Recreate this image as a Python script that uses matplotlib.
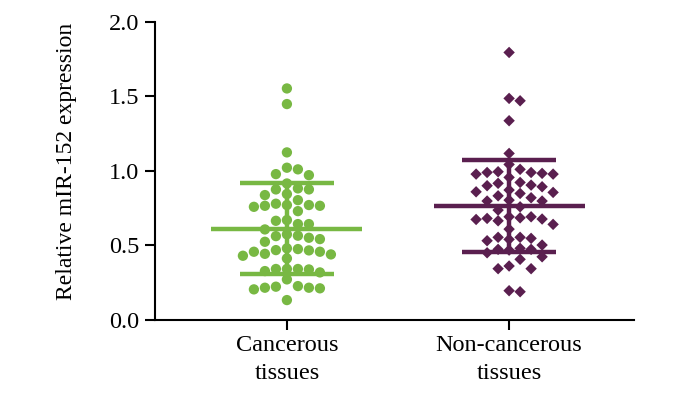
import numpy as np
import matplotlib
matplotlib.use("Agg")
import matplotlib.pyplot as plt

plt.rcParams['font.family'] = ['Liberation Serif', 'DejaVu Serif']

groups = ["Cancerous\ntissues", "Non-cancerous\ntissues"]

cancerous = [1.554, 1.449, 1.124, 1.010, 1.021, 0.971, 0.978, 0.915, 0.875, 0.882,
             0.875, 0.844, 0.837, 0.770, 0.770, 0.758, 0.803, 0.765, 0.765, 0.779,
             0.729, 0.669, 0.664, 0.642, 0.642, 0.606, 0.573, 0.550, 0.523, 0.541,
             0.564, 0.561, 0.474, 0.465, 0.456, 0.438, 0.411, 0.467, 0.429, 0.442,
             0.456, 0.479, 0.340, 0.326, 0.337, 0.317, 0.340, 0.340, 0.270, 0.225,
             0.214, 0.214, 0.203, 0.210, 0.221, 0.131]

noncancerous = [1.796, 1.487, 1.471, 1.337, 1.117, 1.043, 0.994, 0.989, 0.978, 0.956,
                1.010, 0.978, 0.983, 0.989, 0.904, 0.893, 0.922, 0.900, 0.916, 0.848,
                0.832, 0.859, 0.871, 0.855, 0.797, 0.803, 0.819, 0.797, 0.736, 0.758,
                0.684, 0.673, 0.664, 0.676, 0.680, 0.640, 0.691, 0.691, 0.608, 0.553,
                0.539, 0.553, 0.530, 0.546, 0.501, 0.479, 0.472, 0.467, 0.472, 0.449,
                0.405, 0.422, 0.342, 0.342, 0.360, 0.187, 0.194]

colors = ["#78b843", "#5a1f4f"]
markers = ["o", "D"]

fig = plt.figure(figsize=(7, 3.95), dpi=100)
ax = fig.add_axes([0.221, 0.191, 0.685, 0.753])
ax.set_xlim(-0.595, 1.563)
ax.set_ylim(0, 2.0)

# pixels per data unit, used to build a simple column-style swarm
p0 = ax.transData.transform((0, 0))
p1 = ax.transData.transform((1, 1))
xpx, ypx = p1[0] - p0[0], p1[1] - p0[1]


def swarm(vals, center, step=11.0, diam=10.0):
    vals = np.asarray(vals)
    xs = np.zeros(len(vals))
    placed = []
    offsets = [0]
    for k in range(1, 12):
        offsets += [k, -k]
    for i in np.argsort(vals)[::-1]:
        yp = vals[i] * ypx
        for k in offsets:
            xp = k * step
            if all((xp - a) ** 2 + (yp - b) ** 2 >= diam ** 2 for a, b in placed):
                break
        placed.append((xp, yp))
        xs[i] = center + xp / xpx
    return xs


for i, (vals, c, m) in enumerate(zip([cancerous, noncancerous], colors, markers)):
    xs = swarm(vals, i)
    ax.scatter(xs, vals, s=55 if m == "o" else 34, marker=m, color=c,
               edgecolors="none", zorder=2)
    mean = np.mean(vals)
    sd = np.std(vals, ddof=1)
    ax.hlines(mean, i - 0.34, i + 0.34, color=c, lw=3.2, zorder=3)
    ax.hlines([mean - sd, mean + sd], i - 0.21, i + 0.21, color=c, lw=3.2, zorder=3)
    ax.vlines(i, mean - sd, mean + sd, color=c, lw=3.2, zorder=3)

ax.set_xticks([0, 1])
ax.set_xticklabels(groups, fontsize=17.5, linespacing=1.42)
ax.set_yticks([0, 0.5, 1.0, 1.5, 2.0])
ax.set_yticklabels(["0.0", "0.5", "1.0", "1.5", "2.0"], fontsize=17.5)
ax.set_ylabel("Relative mIR-152 expression", fontsize=17)
ax.yaxis.set_label_coords(-0.163, 0.53)

for s in ["top", "right"]:
    ax.spines[s].set_visible(False)
for s in ["left", "bottom"]:
    ax.spines[s].set_linewidth(1.5)
ax.tick_params(axis="both", width=1.5, length=7, pad=4, color="black")

fig.savefig("out.png", dpi=100)
